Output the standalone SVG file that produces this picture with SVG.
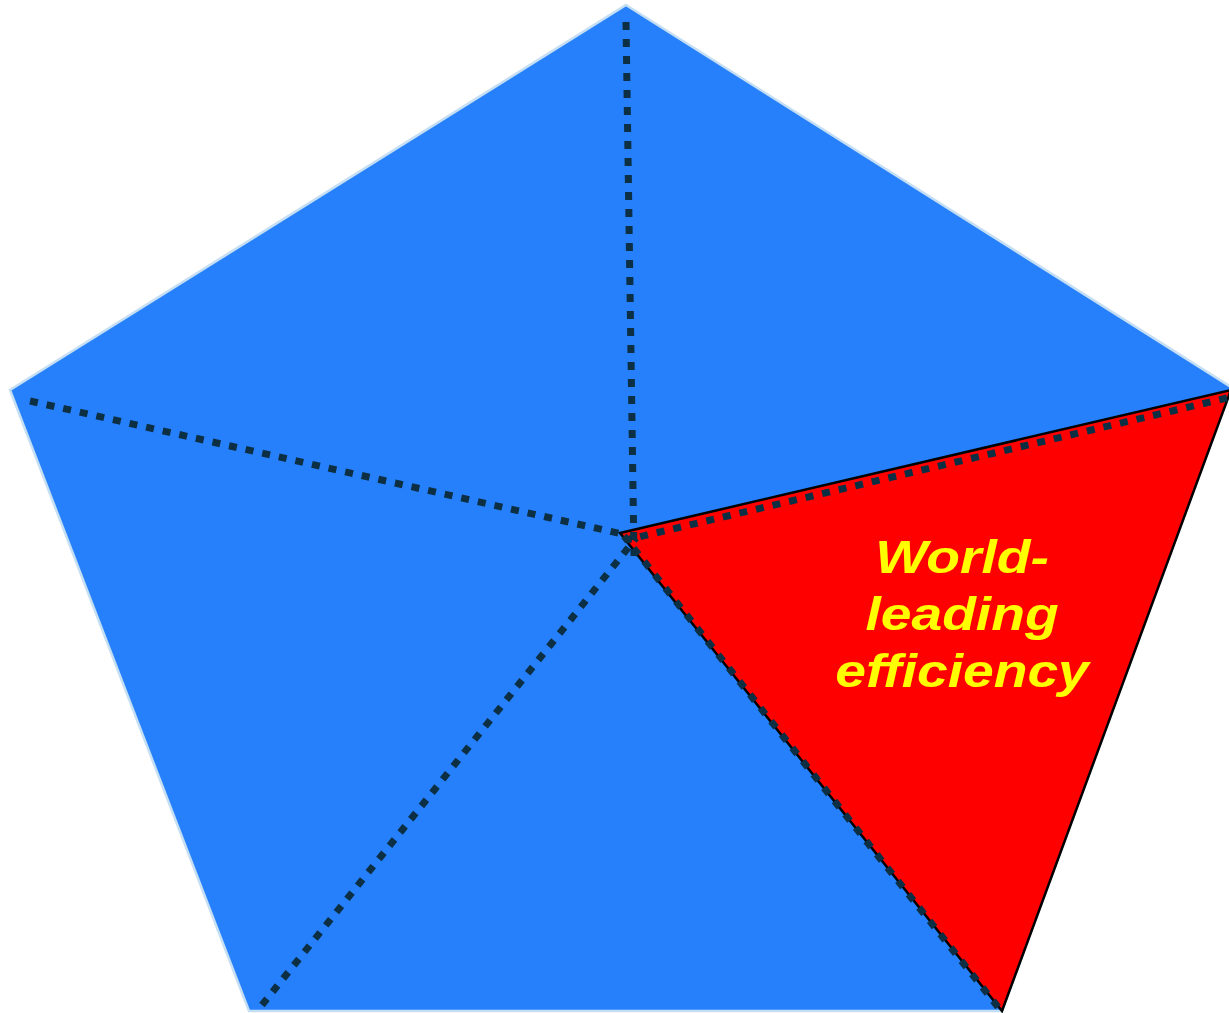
<svg xmlns="http://www.w3.org/2000/svg" width="1229" height="1013" viewBox="0 0 1229 1013">
<style>
.dot{fill:none;stroke:#0c2f44;stroke-width:7;stroke-dasharray:8 9}
.lbl{font-family:"Liberation Sans",Arial,sans-serif;font-weight:bold;font-style:italic;font-size:46px;fill:#ffff00;text-anchor:middle}
</style>
<rect width="1229" height="1013" fill="#ffffff"/>
<g id="pentagon">
<polygon points="626,5 1231,387 1002,1011 249,1011 10,390" fill="#2680fb" stroke="#c4def3" stroke-width="2.5"/>
</g>
<g id="segment-red">
<polygon points="620,533 1231,390 1002,1011" fill="#ff0000" stroke="#000000" stroke-width="2.5" stroke-linejoin="miter"/>
</g>
<g id="connectors">
<line class="dot" x1="626" y1="22" x2="634" y2="556"/>
<line class="dot" x1="30" y1="401" x2="622" y2="534"/>
<line class="dot" x1="262" y1="1005" x2="636" y2="538"/>
<line class="dot" x1="1227" y1="398" x2="626" y2="540"/>
<line class="dot" x1="998" y1="1007" x2="624" y2="536"/>
</g>
<g id="label">
<g transform="translate(962,0) scale(1.2,1)">
<text class="lbl" x="0" y="573">World-</text>
<text class="lbl" x="0" y="630">leading</text>
<text class="lbl" x="0" y="687">efficiency</text>
</g>
</g>
</svg>
